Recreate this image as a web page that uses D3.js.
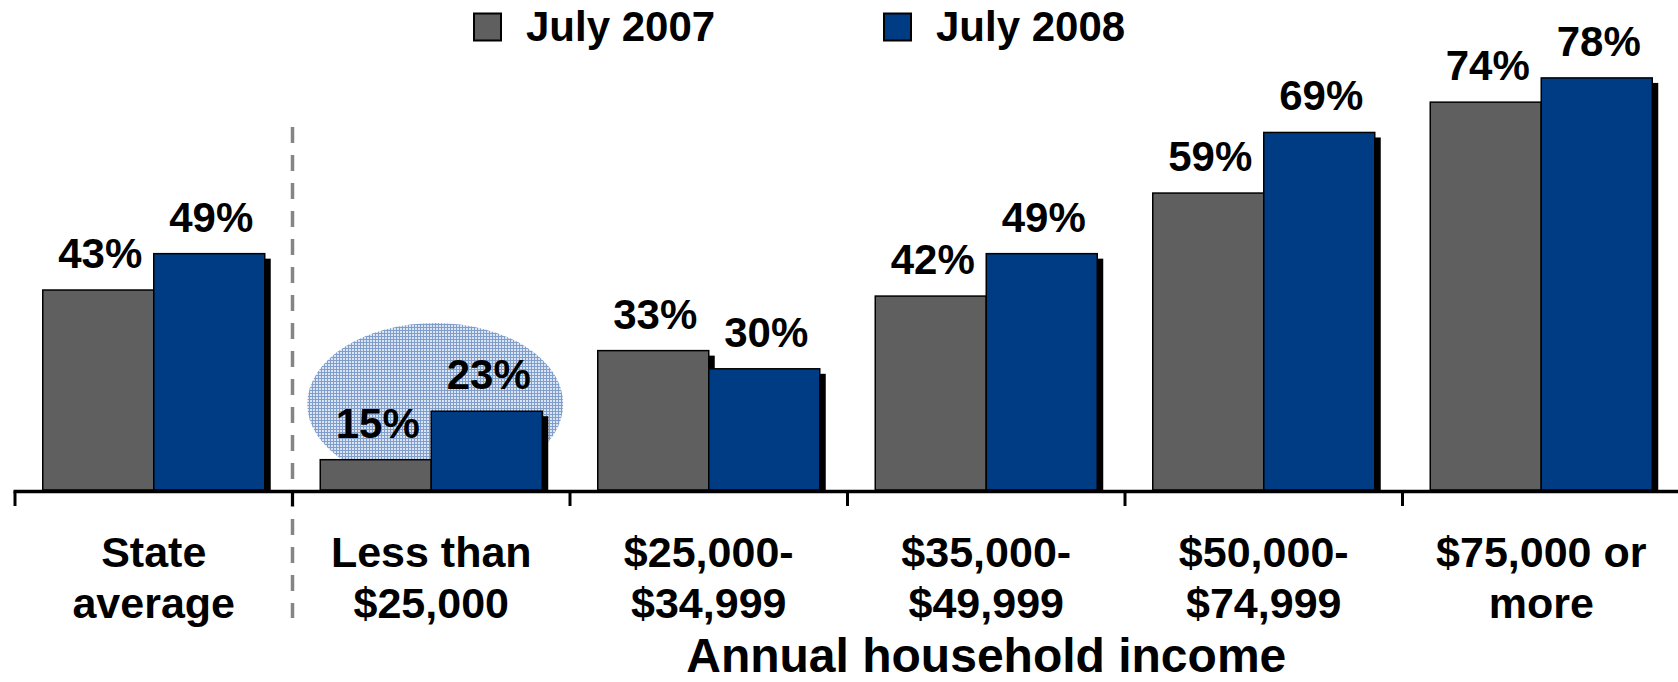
<!DOCTYPE html>
<html>
<head>
<meta charset="utf-8">
<script src="https://cdn.jsdelivr.net/npm/d3@7"></script>
<style>
  html, body { margin: 0; padding: 0; background: #ffffff; }
  svg { display: block; font-family: "Liberation Sans", Arial, sans-serif; font-weight: bold; }
</style>
</head>
<body>
<svg id="chart" width="1678" height="682"></svg>
<script>
const categories = ["State\naverage", "Less than\n$25,000", "$25,000-\n$34,999", "$35,000-\n$49,999", "$50,000-\n$74,999", "$75,000 or\nmore"];
const seriesNames = ["July 2007", "July 2008"];
const values2007 = [43, 15, 33, 42, 59, 74];
const values2008 = [49, 23, 30, 49, 69, 78];
const seriesColors = ["#5f5f5f", "#003c84"];
const axisTitle = "Annual household income";

const W = 1678, H = 682;
const svg = d3.select("#chart");

const x0 = d3.scaleBand().domain(categories).range([15, 15 + 6 * 277.5]).paddingInner(0).paddingOuter(0);
const x1 = d3.scaleBand().domain(seriesNames).range([0, x0.bandwidth()]).paddingInner(0).paddingOuter(0.25);
const y = d3.scaleLinear().domain([10, 80]).range([490, 490 - 70 * 6.06]);
const axisY = 491.5;

// pattern for highlight ellipse
const defs = svg.append("defs");
const pat = defs.append("pattern").attr("id", "plaid").attr("patternUnits", "userSpaceOnUse")
  .attr("width", 3).attr("height", 3);
pat.append("rect").attr("width", 3).attr("height", 3).attr("fill", "#dbe4f2");
pat.append("rect").attr("x", 0).attr("y", 0).attr("width", 1).attr("height", 3).attr("fill", "#7f9ecb");
pat.append("rect").attr("x", 0).attr("y", 0).attr("width", 3).attr("height", 1).attr("fill", "#7f9ecb");

// highlight ellipse around "Less than $25,000"
const hc = categories[1];
const ellCx = x0(hc) + x0.bandwidth() / 2 + 4;
svg.append("ellipse")
  .attr("cx", ellCx).attr("cy", 404).attr("rx", 128).attr("ry", 81)
  .attr("fill", "url(#plaid)");

// separator dashed line
svg.append("line")
  .attr("x1", x0(categories[1])).attr("x2", x0(categories[1]))
  .attr("y1", 127).attr("y2", 618)
  .attr("stroke", "#858585").attr("stroke-width", 3.5).attr("stroke-dasharray", "16 12");

const data = categories.map((c, i) => ({ cat: c, vals: [
  { s: seriesNames[0], v: values2007[i], color: seriesColors[0] },
  { s: seriesNames[1], v: values2008[i], color: seriesColors[1] }
]}));

const groups = svg.append("g").selectAll("g").data(data).join("g")
  .attr("transform", d => `translate(${x0(d.cat)},0)`);

// bars with shadows, series drawn in order
seriesNames.forEach((s, si) => {
  groups.append("rect")
    .attr("x", d => x1(s) + 6)
    .attr("y", d => y(d.vals[si].v) + 5)
    .attr("width", x1.bandwidth())
    .attr("height", d => y(10) - y(d.vals[si].v) - 5 + 1)
    .attr("fill", "#000");
  groups.append("rect")
    .attr("x", d => x1(s))
    .attr("y", d => y(d.vals[si].v))
    .attr("width", x1.bandwidth())
    .attr("height", d => y(10) - y(d.vals[si].v))
    .attr("fill", d => d.vals[si].color)
    .attr("stroke", "#000").attr("stroke-width", 1.5);
});

// value labels
seriesNames.forEach((s, si) => {
  groups.append("text")
    .attr("x", d => x1(s) + x1.bandwidth() / 2 + 2)
    .attr("y", d => y(d.vals[si].v) - 22)
    .attr("text-anchor", "middle")
    .attr("font-size", 42)
    .attr("fill", "#000")
    .text(d => d.vals[si].v + "%");
});

// x axis line and ticks
svg.append("line").attr("x1", 13.5).attr("x2", W).attr("y1", axisY).attr("y2", axisY)
  .attr("stroke", "#000").attr("stroke-width", 3.5);
svg.append("g").selectAll("line").data(categories).join("line")
  .attr("x1", d => x0(d)).attr("x2", d => x0(d))
  .attr("y1", axisY).attr("y2", 506)
  .attr("stroke", "#000").attr("stroke-width", 3);

// category labels
const lab = svg.append("g").selectAll("text").data(categories).join("text")
  .attr("text-anchor", "middle").attr("font-size", 43).attr("fill", "#000");
lab.each(function(d) {
  const t = d3.select(this);
  d.split("\n").forEach((line, li) => {
    t.append("tspan").attr("x", x0(d) + x0.bandwidth() / 2).attr("y", 567 + li * 51).text(line);
  });
});

// axis title centred over income categories
svg.append("text")
  .attr("x", (x0(categories[1]) + x0(categories[5]) + x0.bandwidth()) / 2)
  .attr("y", 672)
  .attr("text-anchor", "middle").attr("font-size", 48).attr("fill", "#000")
  .text(axisTitle);

// legend
const legendX = [474, 884];
const leg = svg.append("g").selectAll("g").data(seriesNames).join("g")
  .attr("transform", (d, i) => `translate(${legendX[i]},0)`);
leg.append("rect").attr("x", 0).attr("y", 13.5).attr("width", 27).attr("height", 27)
  .attr("fill", (d, i) => seriesColors[i]).attr("stroke", "#000").attr("stroke-width", 2);
leg.append("text").attr("x", 52).attr("y", 41).attr("font-size", 42).attr("fill", "#000").text(d => d);
</script>
</body>
</html>
